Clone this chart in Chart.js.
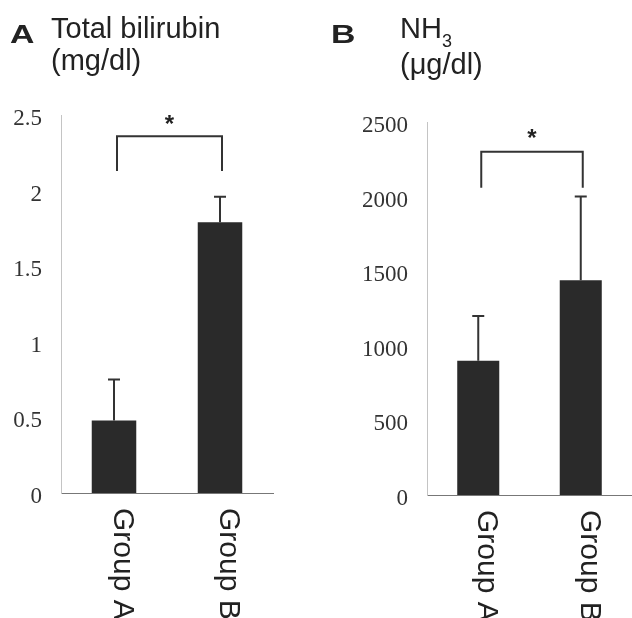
<!DOCTYPE html>
<html>
<head>
<meta charset="utf-8">
<script src="https://cdn.jsdelivr.net/npm/chart.js@4/dist/chart.umd.min.js"></script>
<style>
  body { margin: 0; background: #fff; }
  #wrap { position: relative; width: 632px; height: 618px; overflow: hidden; background: #fff; }
  .panel { position: absolute; top: 0; width: 316px; height: 618px; }
  .letter { position: absolute; font: bold 26px/26px "Liberation Sans", Arial, sans-serif; color: #222;
            transform: scaleX(1.3); transform-origin: left top; }
  .head { position: absolute; font: 29px/32px "Liberation Sans", Arial, sans-serif; color: #222; white-space: nowrap; }
  .sub { font-size: 18px; position: relative; top: 9px; }
</style>
</head>
<body>
<div id="wrap">
  <div class="panel" style="left:0"><canvas id="chartA" width="316" height="618"></canvas></div>
  <div class="panel" style="left:316px"><canvas id="chartB" width="316" height="618"></canvas></div>
  <div class="letter" style="left:10px;top:21px">A</div>
  <div class="head" style="left:51px;top:12px">Total bilirubin<br>(mg/dl)</div>
  <div class="letter" style="left:331px;top:21px">B</div>
  <div class="head" style="left:400px;top:12px">NH<span class="sub">3</span><br>(μg/dl)</div>
</div>
<script>
// data
const groups = ['Group A', 'Group B'];

const biliMean = [0.48, 1.79];
const biliSD = [0.27, 0.17];
const biliTicks = [0, 0.5, 1, 1.5, 2, 2.5];
const biliBracket = [2.13, 2.36];   // leg bottom, bracket top
const biliStar = 2.48;

const nh3Mean = [900, 1440];
const nh3SD = [300, 560];
const nh3Ticks = [0, 500, 1000, 1500, 2000, 2500];
const nh3Bracket = [2060, 2300];
const nh3Star = 2430;

// error bars, significance bracket and rotated group labels
function extras(mean, sd, bracket, star) {
    return {
        id: 'extras',
        afterDatasetsDraw(chart) {
            const ctx = chart.ctx;
            const meta = chart.getDatasetMeta(0);
            const y = chart.scales.y;
            const x = chart.scales.x;
            ctx.save();
            ctx.strokeStyle = '#333';
            ctx.lineWidth = 2;
            meta.data.forEach((bar, i) => {
                const top = y.getPixelForValue(mean[i] + sd[i]);
                ctx.beginPath();
                ctx.moveTo(bar.x, bar.y);
                ctx.lineTo(bar.x, top);
                ctx.moveTo(bar.x - 6, top);
                ctx.lineTo(bar.x + 6, top);
                ctx.stroke();
            });

            const x0 = meta.data[0].x + 3;
            const x1 = meta.data[1].x + 2;
            const yb = y.getPixelForValue(bracket[0]);
            const yt = y.getPixelForValue(bracket[1]);
            ctx.beginPath();
            ctx.moveTo(x0, yb);
            ctx.lineTo(x0, yt);
            ctx.lineTo(x1, yt);
            ctx.lineTo(x1, yb);
            ctx.stroke();

            ctx.fillStyle = '#222';
            ctx.font = 'bold 24px "Liberation Sans", Arial, sans-serif';
            ctx.textAlign = 'center';
            ctx.textBaseline = 'alphabetic';
            ctx.fillText('*', (x0 + x1) / 2, y.getPixelForValue(star) + 14);

            ctx.font = '30px "Liberation Sans", Arial, sans-serif';
            ctx.textAlign = 'left';
            chart.data.labels.forEach((label, i) => {
                ctx.save();
                ctx.translate(x.getPixelForValue(i), x.top + 15);
                ctx.rotate(Math.PI / 2);
                ctx.fillText(label, 0, 0);
                ctx.restore();
            });
            ctx.restore();
        }
    };
}

function makeChart(id, mean, sd, ticks, bracket, star, opts) {
    return new Chart(document.getElementById(id), {
        type: 'bar',
        data: {
            labels: groups,
            datasets: [{
                data: mean,
                backgroundColor: '#2a2a2a',
                borderWidth: 0,
                categoryPercentage: 1,
                barPercentage: opts.barPct
            }]
        },
        options: {
            responsive: false,
            animation: false,
            layout: { padding: { top: opts.top, right: opts.right, left: 0, bottom: 0 } },
            plugins: { legend: { display: false }, tooltip: { enabled: false } },
            scales: {
                x: {
                    grid: { display: false },
                    border: { display: true, color: '#777', width: 1, dash: [1, 1] },
                    ticks: { display: false },
                    afterFit: s => { s.height = opts.xHeight; }
                },
                y: {
                    min: ticks[0],
                    max: ticks[ticks.length - 1],
                    grid: { display: false, drawTicks: false },
                    border: { display: true, color: '#c4c4c4', width: 1, dash: [1, 2] },
                    afterBuildTicks: s => { s.ticks = ticks.map(v => ({ value: v })); },
                    ticks: {
                        padding: 19,
                        labelOffset: 4,
                        color: '#333',
                        font: { family: '"Liberation Serif", "DejaVu Serif", serif', size: 23 },
                        callback: v => String(v)
                    },
                    afterFit: s => { s.width = opts.yWidth; }
                }
            }
        },
        plugins: [extras(mean, sd, bracket, star)]
    });
}

makeChart('chartA', biliMean, biliSD, biliTicks, biliBracket, biliStar,
    { top: 115, right: 43, yWidth: 61, xHeight: 125, barPct: 0.42 });
makeChart('chartB', nh3Mean, nh3SD, nh3Ticks, nh3Bracket, nh3Star,
    { top: 122, right: 0, yWidth: 111, xHeight: 123, barPct: 0.41 });
</script>
</body>
</html>
